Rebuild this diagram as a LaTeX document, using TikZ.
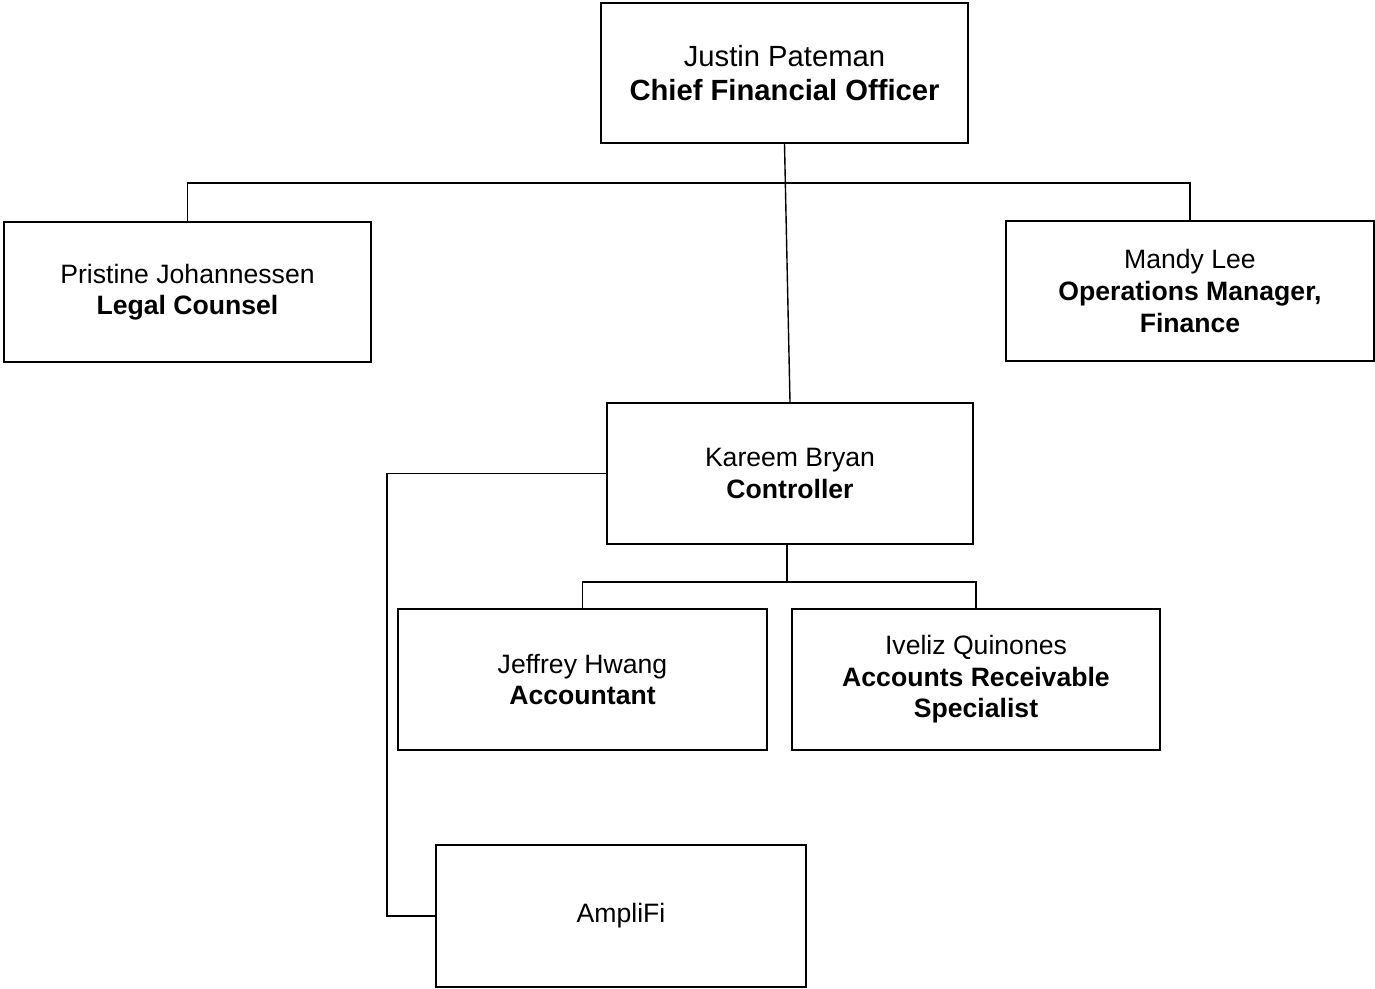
\documentclass[tikz,border=0pt]{standalone}
\usepackage{fontspec}
\setmainfont{Liberation Sans}
\begin{document}
\begin{tikzpicture}[x=0.5pt,y=-0.5pt,
  box/.style={draw=black, line width=0.85pt, fill=white, inner sep=0pt, align=center,
    font=\fontsize{13.3}{15.8}\selectfont},
  topbox/.style={box, font=\fontsize{14.6}{17}\selectfont},
  link/.style={draw=black, line width=0.7pt}]
\useasboundingbox (0,0) rectangle (1375,989);

% boxes
\node[topbox, minimum width=183.5pt, minimum height=70pt] (cfo) at (784.5,73)
  {Justin Pateman\\\textbf{Chief Financial Officer}};
\node[box, minimum width=183.5pt, minimum height=70pt] (legal) at (187.5,292)
  {Pristine Johannessen\\\textbf{Legal Counsel}};
\node[box, minimum width=184pt, minimum height=70pt] (mandy) at (1190,291)
  {Mandy Lee\\\textbf{Operations Manager,}\\\textbf{Finance}};
\node[box, minimum width=183pt, minimum height=70.5pt] (ctrl) at (790,473.5)
  {Kareem Bryan\\\textbf{Controller}};
\node[box, minimum width=184.5pt, minimum height=70.5pt] (jeff) at (582.5,679.5)
  {Jeffrey Hwang\\\textbf{Accountant}};
\node[box, minimum width=184pt, minimum height=70.5pt] (iveliz) at (976,679.5)
  {Iveliz Quinones\\\textbf{Accounts Receivable}\\\textbf{Specialist}};
\node[box, minimum width=185pt, minimum height=71pt] (ampli) at (621,916)
  {AmpliFi};

% reporting lines
\coordinate (topbus) at (787,183);
\coordinate (cbus) at (787,582);
\coordinate (lane) at (387,0);

\draw[link] (cfo.south) -- (ctrl.north);
\draw[link] (legal.north) |- (topbus) -| (mandy.north);
\draw[link] (ctrl.south -| cbus) -- (cbus);
\draw[link] (jeff.north) |- (cbus) -| (iveliz.north);
\draw[link] (ctrl.west) -- (ctrl.west -| lane) |- (ampli.west);
\end{tikzpicture}
\end{document}
